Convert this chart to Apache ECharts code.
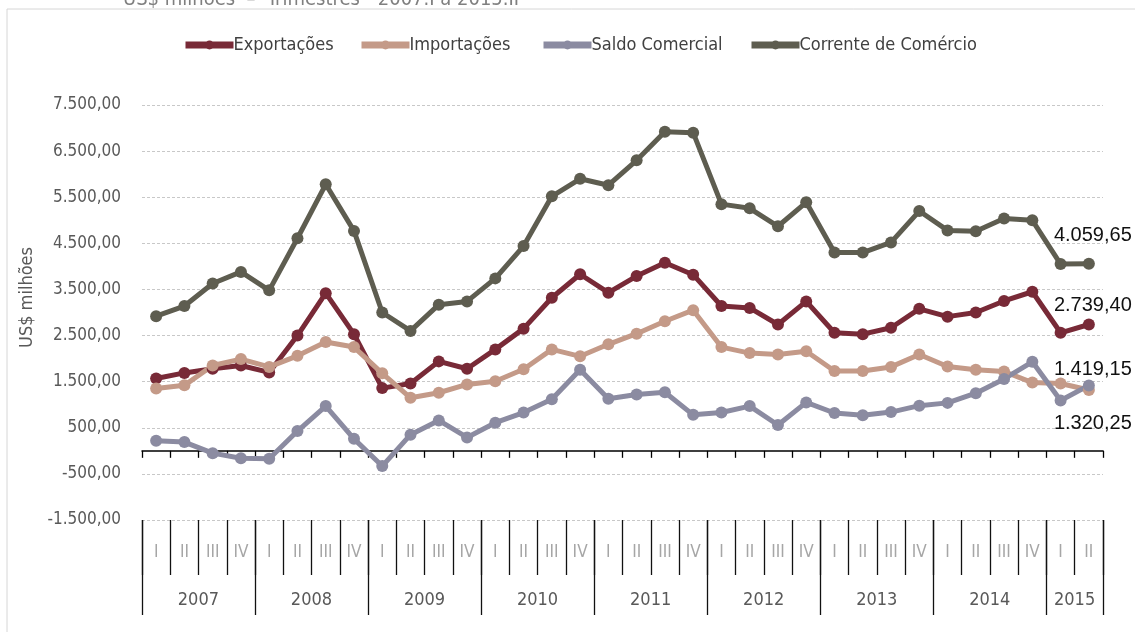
<!DOCTYPE html>
<html>
<head>
<meta charset="utf-8">
<script src="https://cdn.jsdelivr.net/npm/echarts@6/dist/echarts.min.js"></script>
<style>
  html, body { margin: 0; padding: 0; background: #fff; }
  #chart { width: 1135px; height: 632px; }
</style>
</head>
<body>
<div id="chart"></div>
<script>
// trimestres 2007.I a 2015.II
var quarters = ['I','II','III','IV','I','II','III','IV','I','II','III','IV','I','II','III','IV',
  'I','II','III','IV','I','II','III','IV','I','II','III','IV','I','II','III','IV','I','II'];
var years = ['', '2007', '', '', '', '2008', '', '', '', '2009', '', '', '', '2010', '', '',
  '', '2011', '', '', '', '2012', '', '', '', '2013', '', '', '', '2014', '', '', '2015', ''];

var exportacoes = [1570, 1690, 1780, 1850, 1700, 2500, 3420, 2530, 1360, 1460, 1940, 1780,
  2200, 2650, 3320, 3830, 3430, 3790, 4080, 3820, 3140, 3100, 2740, 3240,
  2560, 2530, 2670, 3080, 2910, 3000, 3250, 3450, 2560, 2739.40];
var importacoes = [1350, 1420, 1850, 1990, 1820, 2060, 2360, 2250, 1680, 1150, 1260, 1440,
  1510, 1770, 2200, 2050, 2310, 2540, 2810, 3050, 2250, 2120, 2090, 2160,
  1730, 1730, 1820, 2090, 1830, 1760, 1720, 1480, 1460, 1320.25];
var saldo = [220, 190, -50, -160, -170, 430, 970, 260, -330, 350, 660, 290,
  610, 830, 1120, 1760, 1130, 1220, 1270, 780, 830, 970, 560, 1050,
  820, 770, 840, 980, 1040, 1250, 1560, 1930, 1090, 1419.15];
var corrente = [2920, 3140, 3630, 3880, 3480, 4610, 5780, 4770, 3000, 2600, 3170, 3240,
  3740, 4440, 5520, 5900, 5760, 6300, 6920, 6900, 5350, 5260, 4870, 5390,
  4300, 4300, 4520, 5200, 4780, 4760, 5040, 5000, 4050, 4059.65];

var narrow = "'Liberation Sans Narrow', 'DejaVu Sans Condensed', sans-serif";

// 1234.5 -> "1.234,50"
function fmtBR(v) {
  var neg = v < 0;
  var parts = Math.abs(v).toFixed(2).split('.');
  var int = parts[0].replace(/\B(?=(\d{3})+(?!\d))/g, '.');
  return (neg ? '-' : '') + int + ',' + parts[1];
}

function withLastLabel(arr, pos, dist, offset) {
  return arr.map(function (v, i) {
    if (i !== arr.length - 1) return v;
    return {
      value: v,
      label: {
        show: true, position: pos, distance: dist, offset: offset,
        formatter: function (p) { return fmtBR(p.value); },
        fontFamily: 'Liberation Sans, Arial, sans-serif', fontSize: 20, color: '#111'
      }
    };
  });
}

function lineSeries(name, data, color, pos, dist, offset) {
  return {
    name: name, type: 'line', data: withLastLabel(data, pos, dist, offset),
    symbol: 'circle', symbolSize: 12,
    lineStyle: { width: 5, color: color },
    itemStyle: { color: color },
    z: 3
  };
}

var chart = echarts.init(document.getElementById('chart'));

chart.setOption({
  animation: false,
  textStyle: { fontFamily: narrow },
  graphic: [
    { type: 'rect', shape: { x: 7, y: 9, width: 1160, height: 660 },
      style: { fill: 'none', stroke: '#d6d6d6', lineWidth: 1 }, silent: true },
    { type: 'text', left: 123, top: -10,
      style: { text: 'US$ milhões  \u2013  Trimestres - 2007.I a 2015.II', fontFamily: narrow, fontSize: 20, fill: '#7f7f7f' } }
  ],
  legend: [
    { data: ['Exportações'], left: 182 },
    { data: ['Importações'], left: 358 },
    { data: ['Saldo Comercial'], left: 540 },
    { data: ['Corrente de Comércio'], left: 748 }
  ].map(function (l) {
    l.top = 36;
    l.padding = 0;
    l.itemWidth = 48;
    l.itemHeight = 11;
    l.itemGap = 0;
    l.lineStyle = { width: 7 };
    l.textStyle = { fontFamily: narrow, fontSize: 18, color: '#404040', padding: [0, 0, 0, -5] };
    return l;
  }),
  grid: { left: 142, right: 32, top: 105, bottom: 112 },
  xAxis: [
    {
      type: 'category', data: quarters, boundaryGap: true,
      axisLine: { onZero: true, lineStyle: { color: '#000', width: 1.5 } },
      axisTick: { show: true, interval: 0, length: 7, lineStyle: { color: '#000', width: 1.3 } },
      axisLabel: { show: false },
      splitLine: { show: false }
    },
    {
      type: 'category', data: quarters, position: 'bottom', boundaryGap: true,
      axisLine: { show: false, onZero: false },
      axisTick: { show: true, interval: 0, length: 55, lineStyle: { color: '#111', width: 1.3 } },
      axisLabel: { interval: 0, margin: 24, color: '#a6a6a6', fontSize: 17, fontFamily: narrow },
      splitLine: { show: false }
    },
    {
      type: 'category', data: years, position: 'bottom', boundaryGap: true,
      axisLine: { show: false, onZero: false },
      axisTick: { show: true, length: 95, lineStyle: { color: '#111', width: 1.3 },
        interval: function (i) { return i % 4 === 0; } },
      axisLabel: { interval: 0, margin: 71, color: '#595959', fontSize: 18, fontFamily: narrow,
        padding: [0, 0, 0, 28] },
      splitLine: { show: false }
    }
  ],
  yAxis: {
    type: 'value', min: -1500, max: 7500, interval: 1000,
    name: 'US$ milhões', nameLocation: 'middle', nameGap: 97,
    nameTextStyle: { fontFamily: narrow, fontSize: 18, color: '#595959', padding: [0, 0, 0, 30] },
    axisLine: { show: false },
    axisTick: { show: false },
    axisLabel: { formatter: fmtBR, margin: 21, color: '#595959', fontSize: 17, fontFamily: narrow },
    splitLine: { lineStyle: { color: '#c8c8c8', type: [3, 2], width: 1 } }
  },
  series: [
    lineSeries('Exportações', exportacoes, '#782a37', 'top', 3, [4, 0]),
    lineSeries('Importações', importacoes, '#c49a88', 'bottom', 18, [4, 0]),
    lineSeries('Saldo Comercial', saldo, '#8b8ba1', 'top', 0, [4, 0]),
    lineSeries('Corrente de Comércio', corrente, '#5e5d50', 'top', 12, [4, 0])
  ]
});
</script>
</body>
</html>
